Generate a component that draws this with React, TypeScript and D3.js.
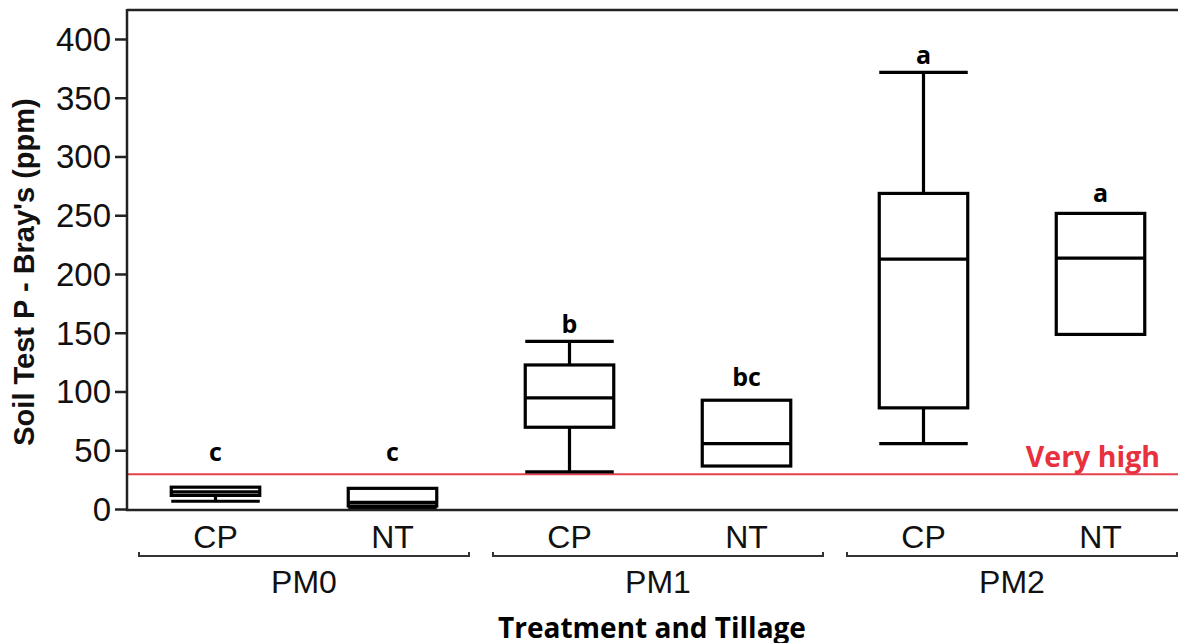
import React from "react";
import * as d3 from "d3";

const groups = ["PM0", "PM1", "PM2"];
const tillages = ["CP", "NT"];
const mins = [7, 1, 32, 37, 56, 149];
const q1s = [12, 3, 70, 37, 86.5, 149];
const medians = [15, 6, 95, 56, 213, 214];
const q3s = [19, 18, 123, 93, 269, 252];
const maxs = [19, 18, 143, 93, 372, 252];
const letters = ["c", "c", "b", "bc", "a", "a"];
const letterValues = [50, 50, 159, 114, 388, 270];
const yTicks = [0, 50, 100, 150, 200, 250, 300, 350, 400];
const threshold = 30;
const thresholdLabel = "Very high";
const yTitle = "Soil Test P - Bray's (ppm)";
const xTitle = "Treatment and Tillage";

const W = 1178;
const H = 643;

export default function App() {
  const ids = groups.flatMap((g) => tillages.map((t) => `${g}-${t}`));
  const x = d3.scaleBand<string>().domain(ids).range([127, 1189]).padding(0);
  const gx = d3.scaleBand<string>().domain(groups).range([127, 1189]).padding(0);
  const y = d3.scaleLinear().domain([0, 425]).range([509.5, 10.1]);
  const bw = x.bandwidth() * 0.5;
  const stroke = "#000";
  const sw = 3.2;
  const axisColor = "#222";

  return (
    <div style={{ position: "absolute", left: 0, top: 0 }}>
      <svg width={W} height={H} style={{ display: "block", background: "#fff" }}>
        {/* threshold line */}
        <line x1={127} x2={1189} y1={y(threshold)} y2={y(threshold)} stroke="#e4404e" strokeWidth={2} />
        <text
          x={1160}
          y={y(threshold) - 7}
          textAnchor="end"
          fontFamily="'Open Sans', sans-serif"
          fontWeight={700}
          fontSize={28.5}
          fill="#e8313f"
        >
          {thresholdLabel}
        </text>

        {/* boxes */}
        {ids.map((id, i) => {
          const cx = (x(id) as number) + x.bandwidth() / 2;
          const x0 = cx - bw / 2;
          const x1 = cx + bw / 2;
          return (
            <g key={id} stroke={stroke} strokeWidth={sw} fill="none">
              {maxs[i] > q3s[i] && (
                <>
                  <line x1={cx} x2={cx} y1={y(q3s[i])} y2={y(maxs[i])} />
                  <line x1={x0} x2={x1} y1={y(maxs[i])} y2={y(maxs[i])} />
                </>
              )}
              {mins[i] < q1s[i] && (
                <>
                  <line x1={cx} x2={cx} y1={y(q1s[i])} y2={y(mins[i])} />
                  <line x1={x0} x2={x1} y1={y(mins[i])} y2={y(mins[i])} />
                </>
              )}
              <rect x={x0} y={y(q3s[i])} width={bw} height={y(q1s[i]) - y(q3s[i])} fill="#fff" />
              <line x1={x0} x2={x1} y1={y(medians[i])} y2={y(medians[i])} />
              <text
                x={cx}
                y={y(letterValues[i])}
                textAnchor="middle"
                dominantBaseline="central"
                fontFamily="'Open Sans', sans-serif"
                fontWeight={700}
                fontSize={25}
                fill="#000"
                stroke="none"
              >
                {letters[i]}
              </text>
            </g>
          );
        })}

        {/* frame */}
        <line x1={127} x2={1189} y1={10} y2={10} stroke={axisColor} strokeWidth={2.5} />
        <line x1={127} x2={127} y1={9} y2={511} stroke={axisColor} strokeWidth={2.5} />
        <line x1={126} x2={1189} y1={510} y2={510} stroke={axisColor} strokeWidth={2.5} />

        {/* y ticks */}
        {yTicks.map((t) => (
          <g key={t}>
            <line x1={115} x2={127} y1={y(t)} y2={y(t)} stroke={axisColor} strokeWidth={2.5} />
            <text
              x={111}
              y={y(t)}
              textAnchor="end"
              dominantBaseline="central"
              fontFamily="'Liberation Sans', Arial, sans-serif"
              fontSize={33}
              fill="#111"
            >
              {t}
            </text>
          </g>
        ))}

        {/* y title */}
        <text
          transform={`translate(34,272) rotate(-90)`}
          textAnchor="middle"
          fontFamily="'Liberation Sans', Arial, sans-serif"
          fontWeight={700}
          fontSize={29}
          fill="#111"
        >
          {yTitle}
        </text>

        {/* x category labels */}
        {ids.map((id, i) => (
          <text
            key={id}
            x={(x(id) as number) + x.bandwidth() / 2}
            y={548}
            textAnchor="middle"
            fontFamily="'Liberation Sans', Arial, sans-serif"
            fontSize={32}
            fill="#111"
          >
            {tillages[i % tillages.length]}
          </text>
        ))}

        {/* group brackets */}
        {groups.map((g) => {
          const gx0 = (gx(g) as number) + 12;
          const gx1 = (gx(g) as number) + gx.bandwidth() - 12;
          const cx = (gx(g) as number) + gx.bandwidth() / 2;
          return (
            <g key={g}>
              <path
                d={`M${gx0},552V556H${gx1}V552`}
                fill="none"
                stroke="#333"
                strokeWidth={2}
              />
              <text
                x={cx}
                y={593}
                textAnchor="middle"
                fontFamily="'Liberation Sans', Arial, sans-serif"
                fontSize={32}
                fill="#111"
              >
                {g}
              </text>
            </g>
          );
        })}

        {/* x title */}
        <text
          x={652}
          y={638}
          textAnchor="middle"
          fontFamily="'Open Sans', sans-serif"
          fontWeight={700}
          fontSize={28}
          fill="#000"
        >
          {xTitle}
        </text>
      </svg>
    </div>
  );
}
